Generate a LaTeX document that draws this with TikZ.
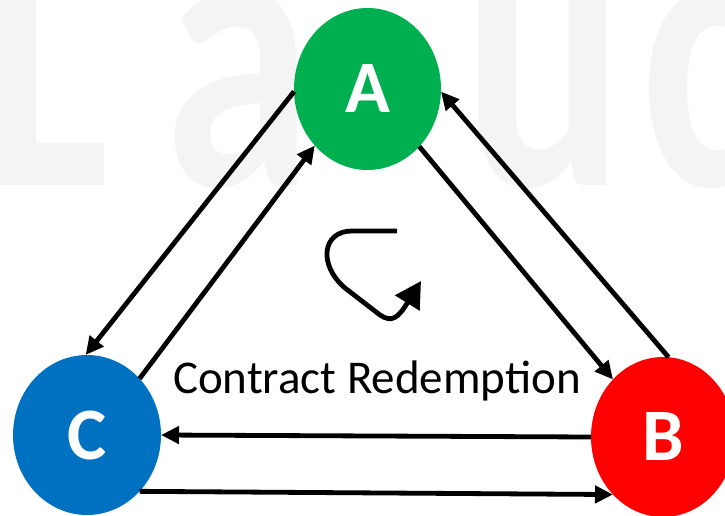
\documentclass[tikz,border=0pt]{standalone}
\usepackage{fontspec}
\setmainfont{Carlito}
\usetikzlibrary{shapes.geometric,arrows.meta}
\definecolor{agreen}{HTML}{00B050}
\definecolor{bred}{HTML}{FF0000}
\definecolor{cblue}{HTML}{0070C0}
\definecolor{wmark}{HTML}{F4F4F4}
\tikzset{
  party/.style={ellipse, draw=none, inner sep=0pt, outer sep=0pt, text=white,
    font=\fontsize{74}{74}\selectfont\bfseries},
  flow/.style={line width=4.8pt, -{Triangle[length=18pt,width=17pt]}},
  cyc/.style={line width=4.8pt, -{Triangle[length=26pt,width=28pt]}},
  wm/.style={anchor=base west, text=wmark, inner sep=0pt, xscale=0.75,
    font=\fontsize{400}{400}\selectfont\bfseries},
  lbl/.style={anchor=base, inner sep=0pt, font=\fontsize{47}{47}\selectfont}
}
\begin{document}
\begin{tikzpicture}[x=1pt,y=-1pt]
\useasboundingbox (0,0) rectangle (725,516);
\clip (0,0) rectangle (725,516);
% watermark
\node[wm] (w1) at (-18,185) {L};
\node[wm] (w2) at (164,185) {a};
\node[wm] (w3) at (463,185) {u};
\node[wm] (w4) at (641,185) {c};
% parties
\node[party, fill=agreen, minimum width=147pt, minimum height=162pt] (A) at (367.5,89) {A};
\node[party, fill=bred, minimum width=144pt, minimum height=160pt] (B) at (663,437) {B};
\node[party, fill=cblue, minimum width=148pt, minimum height=160pt] (C) at (87,435) {C};
% connectors
\draw[flow] (A.182) -- (C.91);
\draw[flow] (C.47) -- (A.227);
\draw[flow] (A.312) -- (B.131);
\draw[flow] (B.86) -- (A.358);
\draw[flow] (B.west) -- (C.east);
\draw[flow] (C.313) -- (B.229);
% cycle arrow
\coordinate (s) at (397,231);
\coordinate (t) at (421,281);
\draw[cyc] (s) -- (352,231) .. controls (322,231) and (318,265) .. (345,288) -- (380,315) .. controls (392,323) and (398,318) .. (t);
\node[lbl] (L) at (377,393) {Contract Redemption};
\end{tikzpicture}
\end{document}
